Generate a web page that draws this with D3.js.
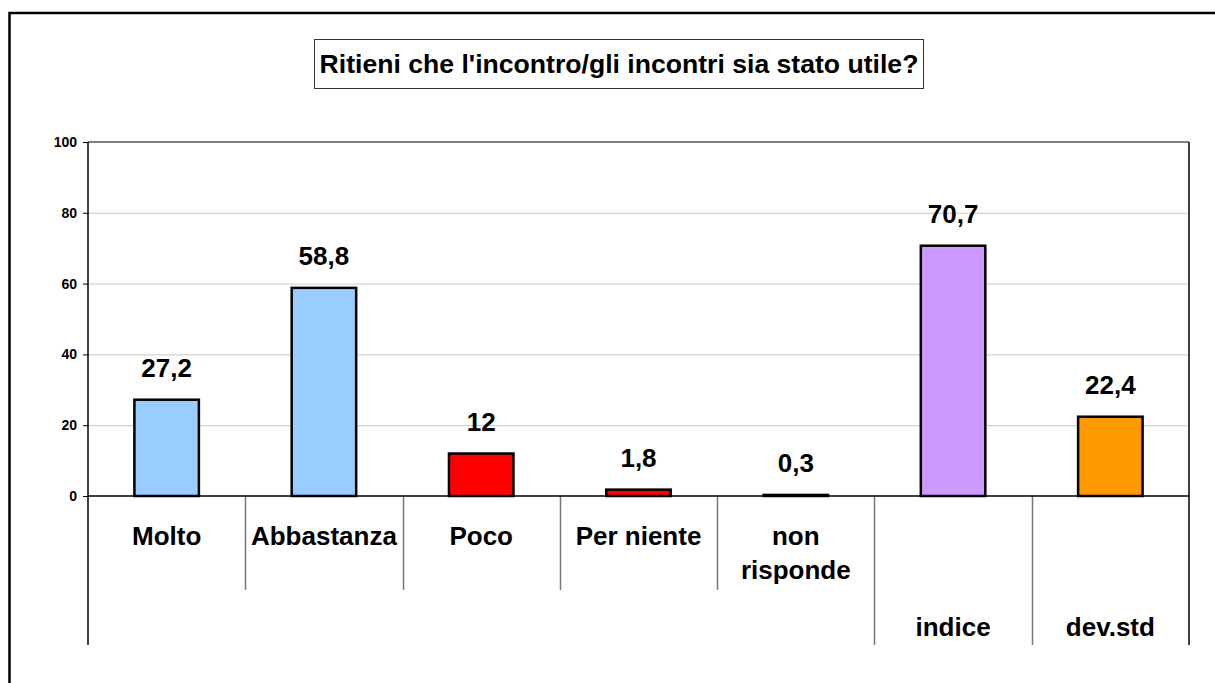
<!DOCTYPE html>
<html>
<head>
<meta charset="utf-8">
<script src="https://cdn.jsdelivr.net/npm/d3@7"></script>
<style>
  body { margin: 0; background: #fff; }
  svg { display: block; font-family: "Liberation Sans", Arial, sans-serif; font-weight: bold; }
</style>
</head>
<body>
<div id="chart"></div>
<script>
// data
const categories = ["Molto", "Abbastanza", "Poco", "Per niente", "non risponde", "indice", "dev.std"];
const values = [27.2, 58.8, 12, 1.8, 0.3, 70.7, 22.4];
const labelLevel = [1, 1, 1, 1, 1, 2, 2]; // 2 = lower row of the category axis
const yTicks = [0, 20, 40, 60, 80, 100];
const title = "Ritieni che l'incontro/gli incontri sia stato utile?";

const barColor = {
    "Molto": "#99ccff", "Abbastanza": "#99ccff",
    "Poco": "#ff0000", "Per niente": "#ff0000", "non risponde": "#ff0000",
    "indice": "#cc99ff", "dev.std": "#ff9900"
};

const W = 1215, H = 683;
const plot = { left: 88, right: 1189, top: 142, bottom: 496 };

const svg = d3.select("#chart").append("svg")
    .attr("width", W)
    .attr("height", H);

// outer frame
svg.append("rect")
    .attr("x", 9.5).attr("y", 13)
    .attr("width", 1220).attr("height", 700)
    .attr("fill", "none")
    .attr("stroke", "#000")
    .attr("stroke-width", 2.5);

// title box
svg.append("rect")
    .attr("x", 314.5).attr("y", 39.5)
    .attr("width", 609).attr("height", 49)
    .attr("fill", "#fff")
    .attr("stroke", "#333")
    .attr("stroke-width", 1);
svg.append("text")
    .attr("x", 619).attr("y", 73)
    .attr("text-anchor", "middle")
    .style("font-size", "26.6px")
    .text(title);

const x = d3.scaleBand()
    .domain(categories)
    .range([plot.left, plot.right])
    .paddingInner(0.59)
    .paddingOuter(0.295);

const xBand = d3.scaleBand()
    .domain(categories)
    .range([plot.left, plot.right]);

const y = d3.scaleLinear()
    .domain([0, 100])
    .range([plot.bottom, plot.top]);

// gridlines
svg.append("g")
    .selectAll("line")
    .data(yTicks.filter(t => t > 0 && t < 100))
    .join("line")
    .attr("x1", plot.left).attr("x2", plot.right)
    .attr("y1", d => y(d) + 0.5).attr("y2", d => y(d) + 0.5)
    .attr("stroke", "#c8c8c8")
    .attr("stroke-width", 1);

// top + right border of plot area
svg.append("line")
    .attr("x1", plot.left).attr("x2", plot.right)
    .attr("y1", y(100)).attr("y2", y(100))
    .attr("stroke", "#808080").attr("stroke-width", 2);
svg.append("line")
    .attr("x1", plot.right).attr("x2", plot.right)
    .attr("y1", plot.top).attr("y2", 645)
    .attr("stroke", "#000").attr("stroke-width", 1.5);

// y axis
const yAxis = svg.append("g")
    .attr("transform", `translate(${plot.left},0)`)
    .call(d3.axisLeft(y).tickValues(yTicks).tickSize(5).tickPadding(6));
yAxis.select(".domain").remove();
yAxis.selectAll("line").attr("stroke", "#000");
yAxis.selectAll("text")
    .attr("fill", "#000")
    .style("font-size", "14px")
    .style("font-family", "'Liberation Sans', Arial, sans-serif")
    .style("font-weight", "bold");
svg.append("line")
    .attr("x1", plot.left).attr("x2", plot.left)
    .attr("y1", plot.top).attr("y2", 645)
    .attr("stroke", "#000").attr("stroke-width", 1.5);

// category separators
const seps = categories.slice(1).map((c, i) => ({
    x: xBand(c),
    long: labelLevel[i + 1] === 2
}));
svg.append("g")
    .selectAll("line")
    .data(seps)
    .join("line")
    .attr("x1", d => Math.round(d.x) + 0.5).attr("x2", d => Math.round(d.x) + 0.5)
    .attr("y1", plot.bottom).attr("y2", d => d.long ? 645 : 590)
    .attr("stroke", "#777")
    .attr("stroke-width", 1.5);

// bars
const data = categories.map((c, i) => ({ cat: c, value: values[i], level: labelLevel[i] }));
svg.append("g")
    .selectAll("rect")
    .data(data)
    .join("rect")
    .attr("x", d => x(d.cat))
    .attr("y", d => y(d.value))
    .attr("width", x.bandwidth())
    .attr("height", d => y(0) - y(d.value))
    .attr("fill", d => barColor[d.cat])
    .attr("stroke", "#000")
    .attr("stroke-width", 2.5);

// zero line
svg.append("line")
    .attr("x1", plot.left).attr("x2", plot.right)
    .attr("y1", plot.bottom).attr("y2", plot.bottom)
    .attr("stroke", "#000").attr("stroke-width", 1.5);

// value labels
svg.append("g")
    .selectAll("text")
    .data(data)
    .join("text")
    .attr("x", d => x(d.cat) + x.bandwidth() / 2)
    .attr("y", d => y(d.value) - 23)
    .attr("text-anchor", "middle")
    .style("font-size", "26px")
    .text(d => String(d.value).replace(".", ","));

// category labels
const catLabels = svg.append("g")
    .selectAll("text")
    .data(data)
    .join("text")
    .attr("x", d => xBand(d.cat) + xBand.bandwidth() / 2)
    .attr("y", d => d.level === 2 ? 636 : 545)
    .attr("text-anchor", "middle")
    .style("font-size", "26px");
catLabels.each(function (d) {
    const words = d.cat === "non risponde" ? ["non", "risponde"] : [d.cat];
    d3.select(this).selectAll("tspan")
        .data(words)
        .join("tspan")
        .attr("x", xBand(d.cat) + xBand.bandwidth() / 2)
        .attr("dy", (w, i) => i === 0 ? 0 : 34)
        .text(w => w);
});
</script>
</body>
</html>
